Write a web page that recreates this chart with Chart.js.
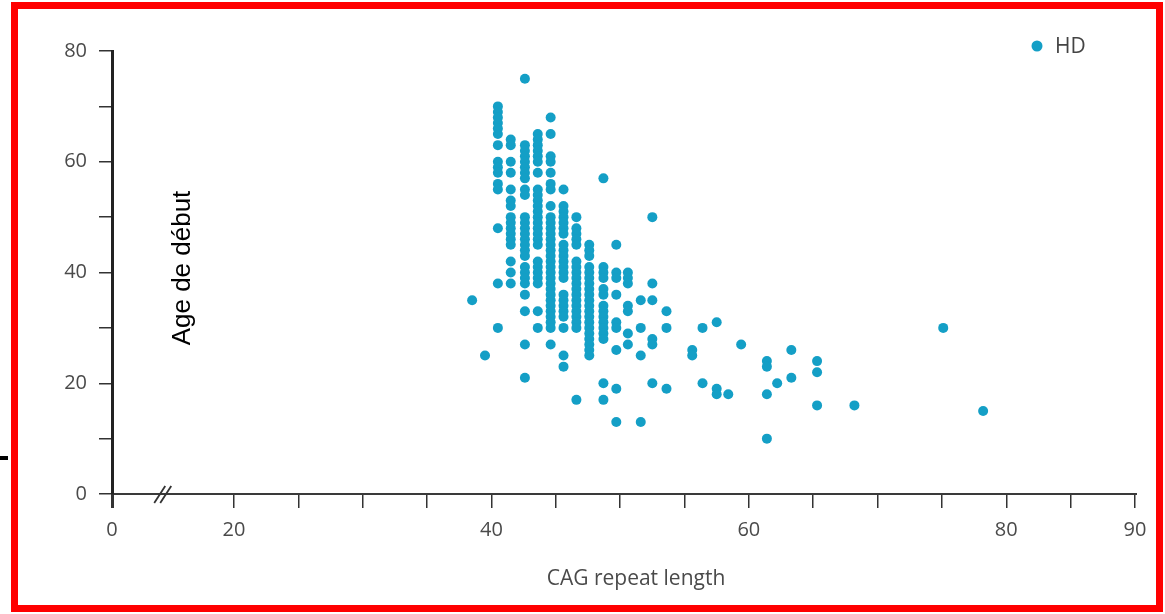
<html>
<head>
<meta charset="UTF-8">
<title>Age de début - CAG</title>
<script src="https://cdn.jsdelivr.net/npm/chart.js"></script>
<style>
  body { margin: 0; background: #fff; }
  #wrap { position: relative; width: 1165px; height: 614px; }
  #frame { position: absolute; left: 11px; top: 2px; width: 1138px; height: 596px; border: 7px solid #ff0000; pointer-events: none; }
  #dash { position: absolute; left: 0; top: 456px; width: 8px; height: 4px; background: #000; }
</style>
</head>
<body>
<div id="wrap">
  <canvas id="chart" width="1165" height="614"></canvas>
  <div id="frame"></div>
  <div id="dash"></div>
</div>
<script>
// CAG repeat length of each column of points
const cagColumns = [38.5, 39.5, 40.5, 41.5, 42.6, 43.6, 44.6, 45.6, 46.6, 47.6, 48.7, 49.7, 50.6, 51.6,
  52.5, 53.6, 55.6, 56.4, 57.5, 58.4, 59.4, 61.4, 62.2, 63.3, 65.3, 68.2, 75.1, 78.2];
// age at onset for the points of each column
const onsetAges = [
  [35],
  [25],
  [70, 69, 68, 67, 66, 65, 63, 60, 59, 58, 56, 55, 48, 38, 30],
  [64, 63, 60, 58, 55, 53, 52, 50, 49, 48, 47, 46, 45, 42, 40, 38],
  [75, 63, 62, 61, 60, 59, 58, 57, 55, 54, 50, 49, 48, 47, 46, 45, 44, 43, 41, 40, 39, 38, 36, 33, 27, 21],
  [65, 64, 63, 62, 61, 60, 58, 55, 54, 53, 52, 51, 50, 49, 48, 47, 46, 45, 42, 41, 40, 39, 38, 33, 30],
  [68, 65, 61, 60, 58, 56, 55, 52, 50, 49, 48, 47, 46, 45, 44, 43, 42, 41, 40, 39, 38, 37, 36, 35, 34, 33, 32, 31, 30, 27],
  [55, 52, 51, 50, 49, 48, 47, 45, 44, 43, 42, 41, 40, 39, 36, 35, 34, 33, 32, 30, 25, 23],
  [50, 48, 47, 46, 45, 42, 41, 40, 39, 38, 37, 36, 35, 34, 33, 32, 31, 30, 17],
  [45, 44, 43, 41, 40, 39, 38, 37, 36, 35, 34, 33, 32, 31, 30, 29, 28, 27, 26, 25],
  [57, 41, 40, 39, 37, 36, 34, 33, 32, 31, 30, 29, 28, 20, 17],
  [45, 40, 39, 36, 31, 30, 26, 19, 13],
  [40, 39, 38, 34, 33, 29, 27],
  [35, 30, 25, 13],
  [50, 38, 35, 28, 27, 20],
  [33, 30, 19],
  [26, 25],
  [30, 20],
  [31, 19, 18],
  [18],
  [27],
  [24, 23, 18, 10],
  [20],
  [26, 21],
  [24, 22, 16],
  [16],
  [30],
  [15]
];

const xAxisStart = 10.52;   // where the broken axis shows "0"
const xBreakAt = 14.5;
const xTickValues = [20, 25, 30, 35, 40, 45, 50, 55, 60, 65, 70, 75, 80, 85, 90];
const xLabelled = [20, 40, 60, 80, 90];
const yLabelled = [0, 20, 40, 60, 80];

const points = [];
cagColumns.forEach((cag, i) => {
  onsetAges[i].forEach(age => points.push({ x: cag, y: age }));
});

const dotColor = '#149fc6';
const tickFont = { family: 'Open Sans', size: 20 };

const decor = {
  id: 'decor',
  afterDraw(chart) {
    const ctx = chart.ctx;
    const x = chart.scales.x;
    const y0 = chart.chartArea.bottom;
    ctx.save();
    // axis break
    const bx = x.getPixelForValue(xBreakAt);
    ctx.strokeStyle = '#333';
    ctx.lineWidth = 1.8;
    [-3, 3].forEach(dx => {
      ctx.beginPath();
      ctx.moveTo(bx + dx - 6, y0 + 9);
      ctx.lineTo(bx + dx + 5, y0 - 8);
      ctx.stroke();
    });
    // y title (sits inside the plot)
    ctx.save();
    ctx.translate(183, 268);
    ctx.rotate(-Math.PI / 2);
    ctx.fillStyle = '#000';
    ctx.font = '26px "Liberation Sans"';
    ctx.textAlign = 'center';
    ctx.textBaseline = 'middle';
    ctx.fillText('Age de début', 0, 0);
    ctx.restore();
    // x title
    ctx.fillStyle = '#4a4a4a';
    ctx.font = '21px "Open Sans"';
    ctx.textAlign = 'center';
    ctx.textBaseline = 'middle';
    ctx.fillText('CAG repeat length', 636, 579);
    // legend
    const ds = chart.data.datasets[0];
    ctx.fillStyle = ds.backgroundColor;
    ctx.beginPath();
    ctx.arc(1037, 46, 5.5, 0, Math.PI * 2);
    ctx.fill();
    ctx.fillStyle = '#444';
    ctx.font = '21px "Open Sans"';
    ctx.textAlign = 'left';
    ctx.fillText(ds.label, 1055, 47);
    ctx.restore();
  }
};

new Chart(document.getElementById('chart'), {
  type: 'scatter',
  data: {
    datasets: [{
      label: 'HD',
      data: points,
      backgroundColor: dotColor,
      borderWidth: 0,
      pointRadius: 5,
      pointHoverRadius: 5
    }]
  },
  options: {
    responsive: false,
    animation: false,
    events: [],
    layout: { padding: { top: 51, right: 30, left: 0, bottom: 0 } },
    plugins: { legend: { display: false }, tooltip: { enabled: false } },
    scales: {
      x: {
        type: 'linear',
        min: xAxisStart,
        max: 90,
        afterBuildTicks: s => { s.ticks = [xAxisStart].concat(xTickValues).map(v => ({ value: v })); },
        afterFit: s => { s.height = 120; },
        ticks: {
          autoSkip: false,
          maxRotation: 0,
          padding: 10,
          color: '#4a4a4a',
          font: tickFont,
          callback: v => v === xAxisStart ? '0' : (xLabelled.includes(v) ? String(v) : '')
        },
        grid: {
          drawOnChartArea: false,
          tickLength: 14,
          color: '#333',
          lineWidth: c => c.index === 0 ? 3 : 1.5
        },
        border: { color: '#3a3a3a', width: 2 }
      },
      y: {
        min: 0,
        max: 80,
        afterFit: s => { s.width = 112; },
        ticks: {
          stepSize: 10,
          autoSkip: false,
          padding: 12,
          color: '#4a4a4a',
          font: tickFont,
          callback: v => yLabelled.includes(v) ? String(v) : ''
        },
        grid: { drawOnChartArea: false, tickLength: 13, color: '#333', lineWidth: 1.5 },
        border: { color: '#222', width: 3 }
      }
    }
  },
  plugins: [decor]
});
</script>
</body>
</html>
